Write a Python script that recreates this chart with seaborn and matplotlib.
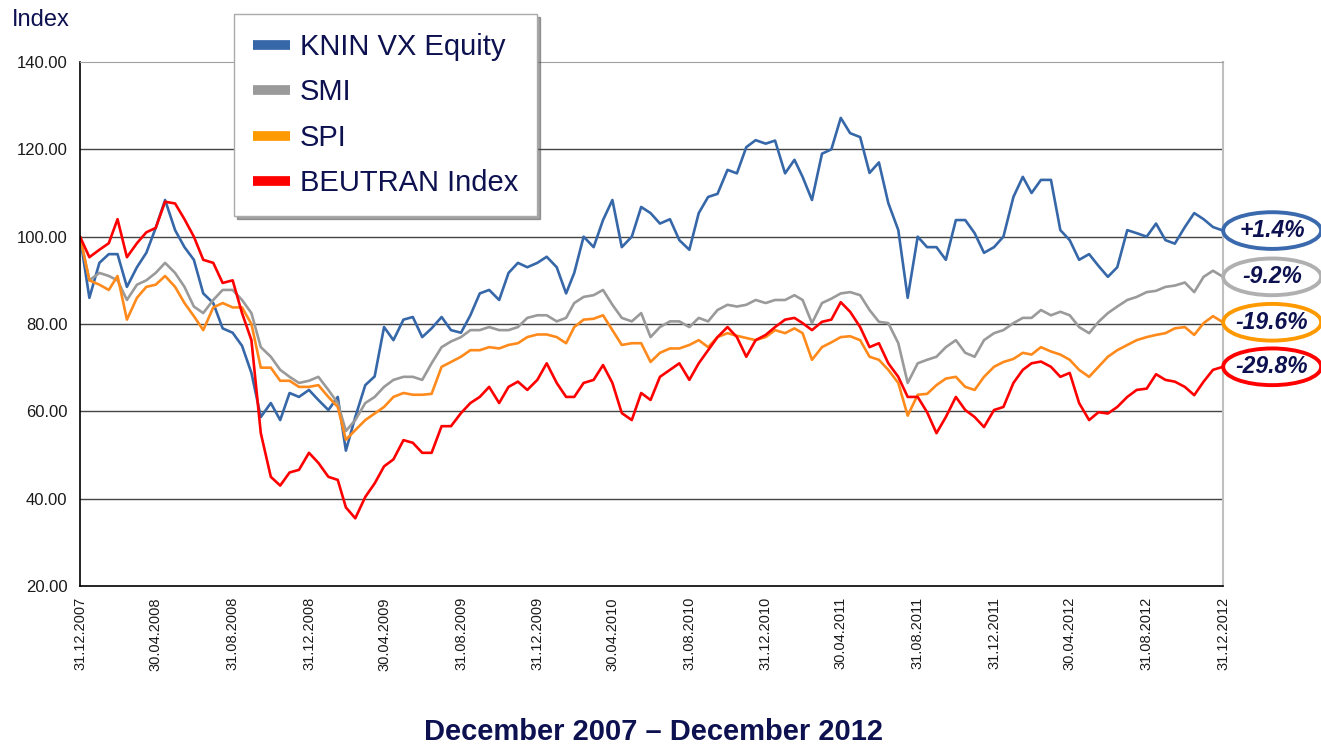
import pandas as pd
import matplotlib
matplotlib.use("Agg")
import matplotlib.pyplot as plt
import seaborn as sns
from matplotlib.lines import Line2D
from matplotlib.patches import Ellipse
from matplotlib.transforms import blended_transform_factory

# Semi-monthly sample dates, 31.12.2007 - 31.12.2012
dates = pd.date_range("2007-12-31", "2012-12-31", freq="SME")

# Index values (rebased to 100), one row per year
knin = [100,
        86, 94, 96, 96, 88.5, 93, 96.3, 102, 108.4, 101.5, 97.6, 94.7,
        87, 84.8, 79, 78, 75, 68.8, 58.7, 61.9, 58, 64.2, 63.3, 64.9,
        62.6, 60.3, 63.3, 51, 58.7, 66, 68, 79.3, 76.3, 81, 81.6, 77,
        79, 81.6, 78.6, 78, 82, 87, 87.8, 85.5, 91.7, 94, 93, 94,
        95.4, 93, 87, 91.7, 100, 97.6, 103.8, 108.4, 97.6, 100, 106.8, 105.4,
        103, 104, 99.2, 97, 105.4, 109.1, 109.8, 115.3, 114.5, 120.5, 122.1, 121.3,
        122, 114.5, 117.6, 113.7, 108.4, 119, 120, 127.2, 123.7, 122.8, 114.6, 117,
        107.7, 101.5, 86, 100, 97.6, 97.6, 94.7, 103.8, 103.8, 100.8, 96.3, 97.6,
        100, 109.1, 113.7, 110, 113, 113, 101.5, 99.2, 94.7, 96, 93.3, 90.8,
        93, 101.5, 100.8, 100, 103, 99.2, 98.4, 102.2, 105.4, 104, 102.2, 101.4]

smi = [100,
       90, 91.7, 91, 90, 85.5, 89, 90, 91.7, 94, 91.7, 88.5, 84,
       82.5, 85.5, 87.8, 87.8, 85.5, 82.5, 74.7, 72.5, 69.5, 67.9, 66.5, 67,
       67.9, 64.9, 61.9, 55.5, 58, 61.9, 63.3, 65.6, 67.2, 67.9, 67.9, 67.2,
       71, 74.7, 76, 77, 78.6, 78.6, 79.3, 78.6, 78.6, 79.3, 81.4, 82,
       82, 80.6, 81.4, 84.8, 86.2, 86.6, 87.8, 84.4, 81.4, 80.6, 82.5, 77,
       79.3, 80.6, 80.6, 79.3, 81.4, 80.6, 83.2, 84.4, 84, 84.4, 85.5, 84.8,
       85.5, 85.5, 86.6, 85.5, 80.2, 84.8, 85.8, 87, 87.3, 86.6, 83.2, 80.5,
       80.2, 75.6, 66.5, 71, 71.8, 72.5, 74.7, 76.3, 73.4, 72.5, 76.3, 77.9,
       78.6, 80.2, 81.4, 81.4, 83.2, 82, 82.8, 82, 79.3, 77.9, 80.5, 82.5,
       84, 85.5, 86.2, 87.3, 87.6, 88.5, 88.8, 89.5, 87.3, 90.8, 92.2, 90.8]

spi = [100,
       90, 89, 87.8, 91, 81, 86, 88.5, 89, 91, 88.5, 84.8, 81.8,
       78.6, 83.8, 84.8, 83.8, 83.8, 80, 70, 70, 67, 67, 65.6, 65.6,
       66, 63.3, 61, 53.5, 55.7, 58, 59.5, 61, 63.3, 64.2, 63.8, 63.8,
       64, 70.2, 71.3, 72.5, 74, 74, 74.7, 74.4, 75.2, 75.6, 77, 77.6,
       77.6, 77, 75.6, 79.3, 81, 81.2, 82, 78.6, 75.2, 75.6, 75.6, 71.3,
       73.4, 74.4, 74.4, 75.2, 76.3, 74.7, 77, 77.9, 77.3, 76.8, 76.3, 77,
       78.6, 77.9, 79, 77.9, 71.8, 74.7, 75.8, 77, 77.2, 76.3, 72.5, 71.8,
       69.5, 66.5, 59, 63.8, 64, 66, 67.5, 67.9, 65.6, 64.9, 67.9, 70.2,
       71.3, 72, 73.4, 73, 74.7, 73.7, 73, 71.8, 69.5, 67.9, 70.2, 72.5,
       74, 75.2, 76.3, 77, 77.5, 77.9, 79, 79.3, 77.5, 80.2, 81.8, 80.4]

beutran = [100,
           95.3, 97, 98.5, 104, 95.3, 98.5, 101, 102, 108, 107.6, 104, 100,
           94.7, 94, 89.4, 90, 82.5, 76.3, 55, 45, 43, 46, 46.6, 50.5,
           48.2, 45, 44.3, 38, 35.5, 40.4, 43.5, 47.4, 49, 53.4, 52.8, 50.5,
           50.5, 56.6, 56.6, 59.6, 61.9, 63.3, 65.6, 61.9, 65.6, 66.8, 64.9, 67.2,
           71, 66.5, 63.3, 63.3, 66.5, 67.2, 70.6, 66.5, 59.6, 58, 64.2, 62.6,
           67.9, 69.5, 71, 67.2, 71, 74, 77, 79.3, 77, 72.5, 76.3, 77.5,
           79.3, 81, 81.4, 80.2, 78.6, 80.5, 81, 85, 82.8, 79.3, 74.7, 75.6,
           71, 67.9, 63.3, 63.3, 59.8, 55, 58.7, 63.3, 60.3, 58.7, 56.4, 60.3,
           61, 66.5, 69.5, 71, 71.4, 70.2, 67.9, 68.8, 61.9, 58, 59.8, 59.5,
           61, 63.3, 64.9, 65.2, 68.5, 67.2, 66.8, 65.6, 63.7, 66.8, 69.5, 70.2]

series_names = ["KNIN VX Equity", "SMI", "SPI", "BEUTRAN Index"]
line_colors = ["#3667a8", "#9a9a9a", "#ff8a1c", "#ff0000"]
legend_colors = ["#3667a8", "#9a9a9a", "#ff9900", "#ff0000"]
ring_colors = ["#3a6aad", "#b0b0b0", "#ff9900", "#ff0000"]

tick_labels = ["31.12.2007", "30.04.2008", "31.08.2008", "31.12.2008",
               "30.04.2009", "31.08.2009", "31.12.2009", "30.04.2010",
               "31.08.2010", "31.12.2010", "30.04.2011", "31.08.2011",
               "31.12.2011", "30.04.2012", "31.08.2012", "31.12.2012"]

navy = "#0d1150"

df = pd.DataFrame({"Date": dates, "KNIN VX Equity": knin, "SMI": smi,
                   "SPI": spi, "BEUTRAN Index": beutran})
long = df.melt(id_vars="Date", var_name="Series", value_name="Index")

sns.set_style("white")
plt.rcParams["font.family"] = ["Liberation Sans", "DejaVu Sans"]

fig = plt.figure(figsize=(13.21, 7.46), dpi=100)
ax = fig.add_axes([80 / 1321, 160 / 746, 1143 / 1321, 524 / 746])

# grid lines first so the series sit on top
for v in [40, 60, 80, 100, 120]:
    ax.axhline(v, color="#444444", lw=1.0, zorder=0.5)

sns.lineplot(data=long, x="Date", y="Index", hue="Series",
             hue_order=series_names, palette=line_colors,
             linewidth=1.9, estimator=None, legend=False, ax=ax)

ax.set_xlim(dates[0], dates[-1])
ax.set_ylim(20, 140)
ax.set_yticks(range(20, 141, 20))
ax.set_yticklabels([f"{v:.2f}" for v in range(20, 141, 20)])
ax.set_xticks(pd.to_datetime(tick_labels, format="%d.%m.%Y"))
ax.set_xticklabels(tick_labels, rotation=90)
ax.set_xlabel("")
ax.set_ylabel("")

ax.tick_params(axis="both", direction="out", length=5, width=1,
               color="black", labelcolor="#1a1a1a")
ax.tick_params(axis="y", labelsize=12, pad=4)
ax.tick_params(axis="x", labelsize=10.5, pad=3)

for side in ["left", "bottom"]:
    ax.spines[side].set_color("black")
    ax.spines[side].set_linewidth(1.2)
ax.spines["top"].set_color("#a0a0a0")
ax.spines["right"].set_color("#c0c0c0")
ax.spines["right"].set_linewidth(1.5)

# legend
handles = [Line2D([], [], color=c, lw=7, solid_capstyle="butt")
           for c in legend_colors]
leg = ax.legend(handles, series_names, loc="upper left",
                bbox_to_anchor=(0.135, 1.092), fontsize=21, frameon=True,
                fancybox=False, shadow=True, edgecolor="#aaaaaa",
                framealpha=1, handlelength=1.25, handletextpad=0.35,
                labelspacing=0.6, borderpad=0.65, borderaxespad=0)
for t in leg.get_texts():
    t.set_color(navy)

# performance rings on the right
trans = blended_transform_factory(ax.transAxes, ax.transData)
for vals, c in zip([knin, smi, spi, beutran], ring_colors):
    last = vals[-1]
    ax.add_patch(Ellipse((1.043, last), 0.0857, 8.4, transform=trans,
                         facecolor="white", edgecolor=c, lw=2.8,
                         clip_on=False, zorder=5))
    ax.text(1.043, last, f"{last - 100:+.1f}%", transform=trans,
            ha="center", va="center", fontsize=16.5, fontweight="bold",
            fontstyle="italic", color=navy, clip_on=False, zorder=6)

fig.text(12 / 1321, 1 - 20 / 746, "Index", fontsize=17, color=navy,
         ha="left", va="center")
fig.text(653 / 1321, 1 - 732 / 746, "December 2007 \u2013 December 2012",
         fontsize=21, fontweight="bold", color=navy, ha="center", va="center")

fig.savefig("out.png", dpi=100)
